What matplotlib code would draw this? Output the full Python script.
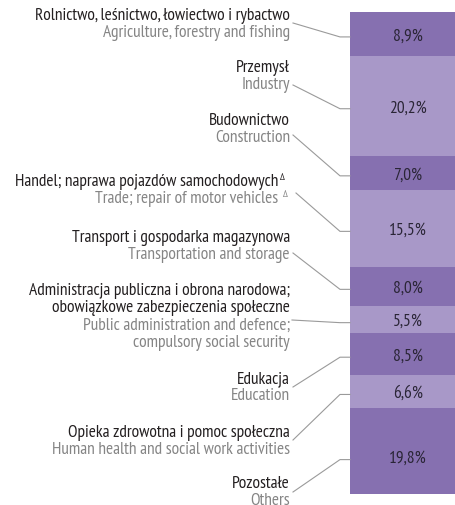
import matplotlib
matplotlib.use("Agg")
import matplotlib.pyplot as plt
import numpy as np

plt.rcParams['font.family'] = ['PT Sans Narrow', 'DejaVu Sans']

# data
labels_pl = ["Rolnictwo, leśnictwo, łowiectwo i rybactwo", "Przemysł", "Budownictwo",
             "Handel; naprawa pojazdów samochodowych", "Transport i gospodarka magazynowa",
             "Administracja publiczna i obrona narodowa;\nobowiązkowe zabezpieczenia społeczne",
             "Edukacja", "Opieka zdrowotna i pomoc społeczna", "Pozostałe"]
labels_en = ["Agriculture, forestry and fishing", "Industry", "Construction",
             "Trade; repair of motor vehicles", "Transportation and storage",
             "Public administration and defence;\ncompulsory social security",
             "Education", "Human health and social work activities", "Others"]
shares = [8.9, 20.2, 7.0, 15.5, 8.0, 5.5, 8.5, 6.6, 19.8]
delta = [False, False, False, True, False, False, False, False, False]

dark = "#8670b0"
light = "#a898c8"

# layout (pixels in the 456x505 picture)
scale = 4.935          # pixels per percent
top_px = 12
bottom_px = 494
pl_y = [16, 68, 121, 182, 238, 291, 379, 433, 484]   # centre of first Polish line
line_start = [(293, 23), (293, 85), (293, 135), (296, 193), (293, 253),
              (292, 320), (293, 387), (293, 440), (293, 492)]

def py(p):
    return (p - top_px) / scale

fig = plt.figure(figsize=(4.56, 5.05), dpi=100)
ax = fig.add_axes([0, (505 - bottom_px) / 505, 1, (bottom_px - top_px) / 505])
ax.set_xlim(0, 456)
ax.set_ylim((bottom_px - top_px) / scale, 0)
ax.axis("off")

bottoms = np.concatenate([[0], np.cumsum(shares)[:-1]])
colors = [dark if i % 2 == 0 else light for i in range(len(shares))]
ax.bar(403, shares, bottom=bottoms, width=106, color=colors, linewidth=0)

fs = 12.5
for i, v in enumerate(shares):
    c = bottoms[i] + v / 2
    ax.text(408, c + 0.5, f"{v:.1f}%".replace(".", ","), ha="center", va="center",
            fontsize=fs, color="#2a2536")

    n_pl = labels_pl[i].count("\n") + 1
    y0 = py(pl_y[i])
    step = 17.2 / scale
    xr = 290 if not delta[i] else 278
    for j, line in enumerate(labels_pl[i].split("\n")):
        ax.text(xr, y0 + j * step, line, ha="right", va="center", fontsize=fs, color="#231f20")
    for j, line in enumerate(labels_en[i].split("\n")):
        ax.text(xr, y0 + (n_pl + j) * step, line, ha="right", va="center", fontsize=fs, color="#858585")
    if delta[i]:
        ax.text(280, y0 - 1.0, "Δ", ha="left", va="center", fontsize=7.5, color="#231f20")
        ax.text(283, y0 + step - 1.0, "Δ", ha="left", va="center", fontsize=7.5, color="#858585")

    sx, sy = line_start[i]
    ax.plot([sx, 340, 350], [py(sy), c + 0.6, c + 0.6], color="#9a9a9a", lw=0.8, clip_on=False)

fig.savefig("out.png", dpi=100)
